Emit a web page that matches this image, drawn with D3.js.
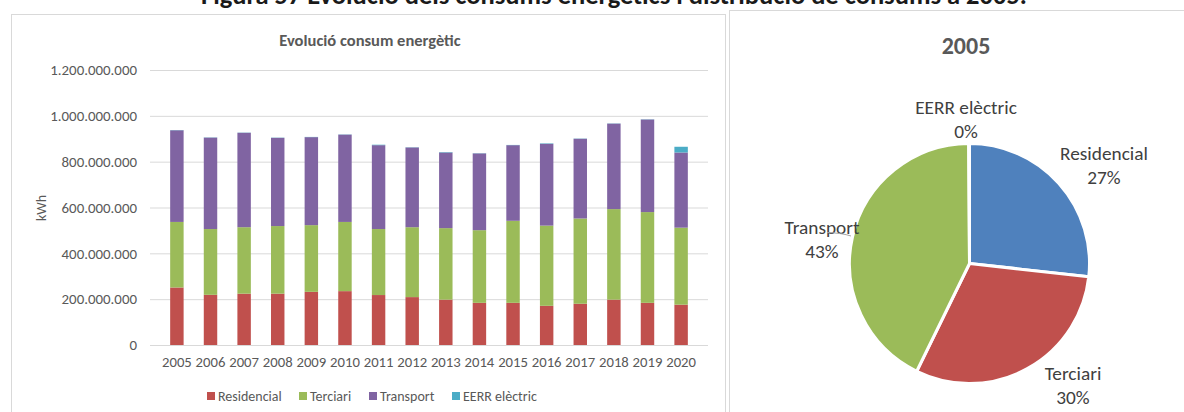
<!DOCTYPE html>
<html lang="ca">
<head>
<meta charset="utf-8">
<title>Evolució consum energètic</title>
<script src="https://cdn.jsdelivr.net/npm/d3@7"></script>
<style>
  body { margin: 0; background: #fff; }
  svg { display: block; font-family: Carlito, Calibri, Lato, sans-serif; }
</style>
</head>
<body>
<svg id="chart" width="1184" height="412"></svg>
<script>
/**chart data (kWh in millions)*/
var years = ["2005","2006","2007","2008","2009","2010","2011","2012","2013","2014","2015","2016","2017","2018","2019","2020"];
var seriesNames = ["Residencial", "Terciari", "Transport", "EERR elèctric"];
var residencial = [251, 219, 224, 224, 232, 235, 218, 209, 198, 184, 184, 171, 180, 198, 184, 176];
var terciari    = [286, 287, 290, 295, 291, 302, 288, 305, 312, 317, 358, 350, 372, 395, 396, 336];
var transport   = [400, 399, 412, 385, 384, 381, 366, 348, 330, 335, 330, 357, 348, 373, 404, 328];
var eerr        = [1, 1, 1, 1, 1, 1, 2, 1, 2, 1, 1, 2, 1, 1, 1, 25];
var yTicks = [0, 200e6, 400e6, 600e6, 800e6, 1000e6, 1200e6];
var pieYear = "2005";

var barColors = ["#C0504D", "#9BBB59", "#8064A2", "#4BACC6"];
var pieColors = ["#4F81BD", "#C0504D", "#9BBB59", "#8064A2"];

var svg = d3.select("#chart");
var catFmt = d3.formatLocale({decimal: ",", thousands: ".", grouping: [3], currency: ["", "€"]}).format(",.0f");

/**builds table of rows from the arrays*/
var rows = years.map(function(y, i) {
    return {
        year: y,
        "Residencial": residencial[i] * 1e6,
        "Terciari": terciari[i] * 1e6,
        "Transport": transport[i] * 1e6,
        "EERR elèctric": eerr[i] * 1e6
    };
});

/**figure caption (cut at the top edge)*/
svg.append("text")
   .attr("x", 614).attr("y", 4)
   .attr("text-anchor", "middle")
   .attr("font-size", 26.5).attr("font-weight", "bold")
   .attr("fill", "#1a1a1a")
   .text("Figura 57 Evolució dels consums energètics i distribució de consums a 2005.");

/**the two chart frames*/
svg.append("rect").attr("x", 11.5).attr("y", 14.5).attr("width", 714).attr("height", 420)
   .attr("fill", "#fff").attr("stroke", "#d9d9d9");
svg.append("rect").attr("x", 729.5).attr("y", 10.5).attr("width", 470).attr("height", 420)
   .attr("fill", "#fff").attr("stroke", "#d9d9d9");

/**bar chart*/
var x = d3.scaleBand().domain(years).range([150, 708]).padding(0.6);
var y = d3.scaleLinear().domain([0, 1200e6]).range([345, 70]);

svg.append("text")
   .attr("x", 370).attr("y", 46)
   .attr("text-anchor", "middle")
   .attr("font-size", 16.5).attr("font-weight", "bold")
   .attr("fill", "#595959")
   .text("Evolució consum energètic");

var yAxis = svg.append("g")
   .attr("transform", "translate(150,0)")
   .call(d3.axisLeft(y).tickValues(yTicks).tickSize(-558).tickPadding(13).tickFormat(catFmt));
yAxis.select(".domain").remove();
yAxis.selectAll("line").attr("stroke", "#d9d9d9");
yAxis.selectAll("text").attr("fill", "#595959").attr("font-size", 14.9).attr("font-family", "Carlito, Calibri, Lato, sans-serif");

var xAxis = svg.append("g")
   .attr("transform", "translate(0,345)")
   .call(d3.axisBottom(x).tickSize(0).tickPadding(12));
xAxis.select(".domain").attr("stroke", "#d9d9d9").attr("d", "M150,0.5H708");
xAxis.selectAll("text").attr("fill", "#595959").attr("font-size", 14.7).attr("font-family", "Carlito, Calibri, Lato, sans-serif");

svg.append("text")
   .attr("transform", "translate(46,208) rotate(-90)")
   .attr("text-anchor", "middle")
   .attr("font-size", 14).attr("fill", "#595959")
   .text("kWh");

var stacked = d3.stack().keys(seriesNames)(rows);
svg.selectAll(".layer")
   .data(stacked)
   .enter().append("g")
   .attr("class", "layer")
   .attr("fill", function(d, i) { return barColors[i]; })
   .selectAll("rect")
   .data(function(d) { return d; })
   .enter().append("rect")
   .attr("x", function(d) { return x(d.data.year); })
   .attr("y", function(d) { return y(d[1]); })
   .attr("width", x.bandwidth())
   .attr("height", function(d) { return y(d[0]) - y(d[1]); });

/**legend*/
var legendX = [207, 299, 369, 452];
var legend = svg.selectAll(".legend")
   .data(seriesNames)
   .enter().append("g")
   .attr("class", "legend")
   .attr("transform", function(d, i) { return "translate(" + legendX[i] + ",392)"; });
legend.append("rect").attr("width", 8).attr("height", 8)
   .attr("fill", function(d, i) { return barColors[i]; });
legend.append("text").attr("x", 11).attr("y", 9)
   .attr("font-size", 14).attr("fill", "#595959")
   .text(function(d) { return d; });

/**pie chart of one year*/
var pieRow = rows[years.indexOf(pieYear)];
var pieValues = seriesNames.map(function(k) { return pieRow[k]; });
var pieTotal = d3.sum(pieValues);
var cx = 969.5, cy = 263.5, r = 120;

svg.append("text")
   .attr("x", 966).attr("y", 54)
   .attr("text-anchor", "middle")
   .attr("font-size", 24).attr("font-weight", "bold")
   .attr("fill", "#595959")
   .text(pieYear);

var arcs = d3.pie().sort(null)(pieValues);
var arc = d3.arc().innerRadius(0).outerRadius(r);
var pieG = svg.append("g").attr("transform", "translate(" + cx + "," + cy + ")");
pieG.selectAll("path")
   .data(arcs)
   .enter().append("path")
   .attr("d", arc)
   .attr("fill", function(d, i) { return pieColors[i]; })
   .attr("stroke", "#fff")
   .attr("stroke-width", 3)
   .attr("stroke-linejoin", "round");

/**pie labels: name and percent, placed like the picture*/
var labelPos = [[1104, 160], [1073, 380], [822, 234], [966, 114]];
var labels = svg.selectAll(".plabel")
   .data(arcs)
   .enter().append("text")
   .attr("class", "plabel")
   .attr("text-anchor", "middle")
   .attr("font-size", 19.3).attr("fill", "#404040");
labels.append("tspan")
   .attr("x", function(d, i) { return labelPos[i][0]; })
   .attr("y", function(d, i) { return labelPos[i][1]; })
   .text(function(d, i) { return seriesNames[i]; });
labels.append("tspan")
   .attr("x", function(d, i) { return labelPos[i][0]; })
   .attr("y", function(d, i) { return labelPos[i][1] + 24; })
   .text(function(d) { return Math.round(d.value / pieTotal * 100) + "%"; });

/**leader line for Transport*/
svg.append("path")
   .attr("d", "M827,232.5 Q842,233 851,236")
   .attr("fill", "none").attr("stroke", "#a6a6a6").attr("stroke-width", 1);
</script>
</body>
</html>
